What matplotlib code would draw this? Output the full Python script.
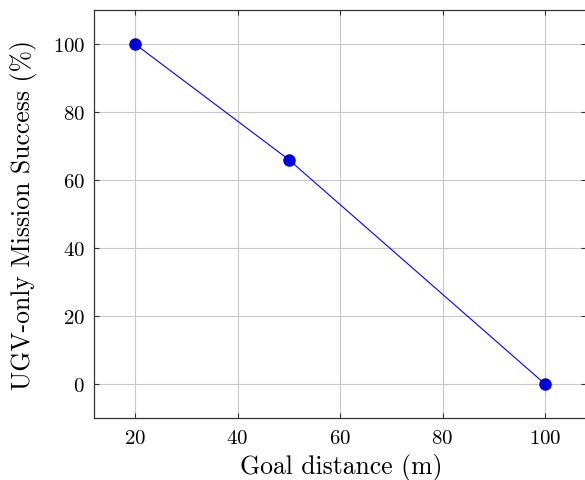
import matplotlib
matplotlib.use("Agg")
import matplotlib.pyplot as plt

goal_distance = [20, 50, 100]
success = [100, 66, 0]
x_ticks = [20, 40, 60, 80, 100]
y_ticks = [0, 20, 40, 60, 80, 100]

plt.rcParams['font.family'] = ['cmr10', 'DejaVu Serif']
plt.rcParams['axes.formatter.use_mathtext'] = True

fig = plt.figure(figsize=(5.85, 4.81), dpi=100)
ax = fig.add_axes([94/585, 1 - 419/481, (586 - 94)/585, 408/481])

ax.plot(goal_distance, success, color='blue', linewidth=0.8,
        marker='o', markersize=8, markerfacecolor='#0000dd', markeredgecolor='#0000dd', zorder=3)

ax.set_xlim(12, 108)
ax.set_ylim(-10, 110)
ax.set_xticks(x_ticks)
ax.set_yticks(y_ticks)
ax.grid(True, color='#c8c8c8', linewidth=0.8)
ax.set_axisbelow(True)
ax.tick_params(direction='in', top=True, right=True, length=3.5, width=0.8,
               color='#333333', labelsize=15)
ax.tick_params(axis='x', pad=8)
ax.tick_params(axis='y', pad=6.5)
for s in ax.spines.values():
    s.set_color('#333333')
    s.set_linewidth(0.9)

ax.set_xlabel('Goal distance (m)', fontsize=18.5, va='center')
ax.set_ylabel('UGV-only Mission Success (%)', fontsize=18.5, va='center')
ax.xaxis.set_label_coords(0.5 * (241 + 441) / 1 / 492 - 94 / 492, (419 - 468) / 408)
ax.yaxis.set_label_coords((24 - 94) / 492, (419 - 215) / 408)

fig.savefig('out.png', dpi=100)
